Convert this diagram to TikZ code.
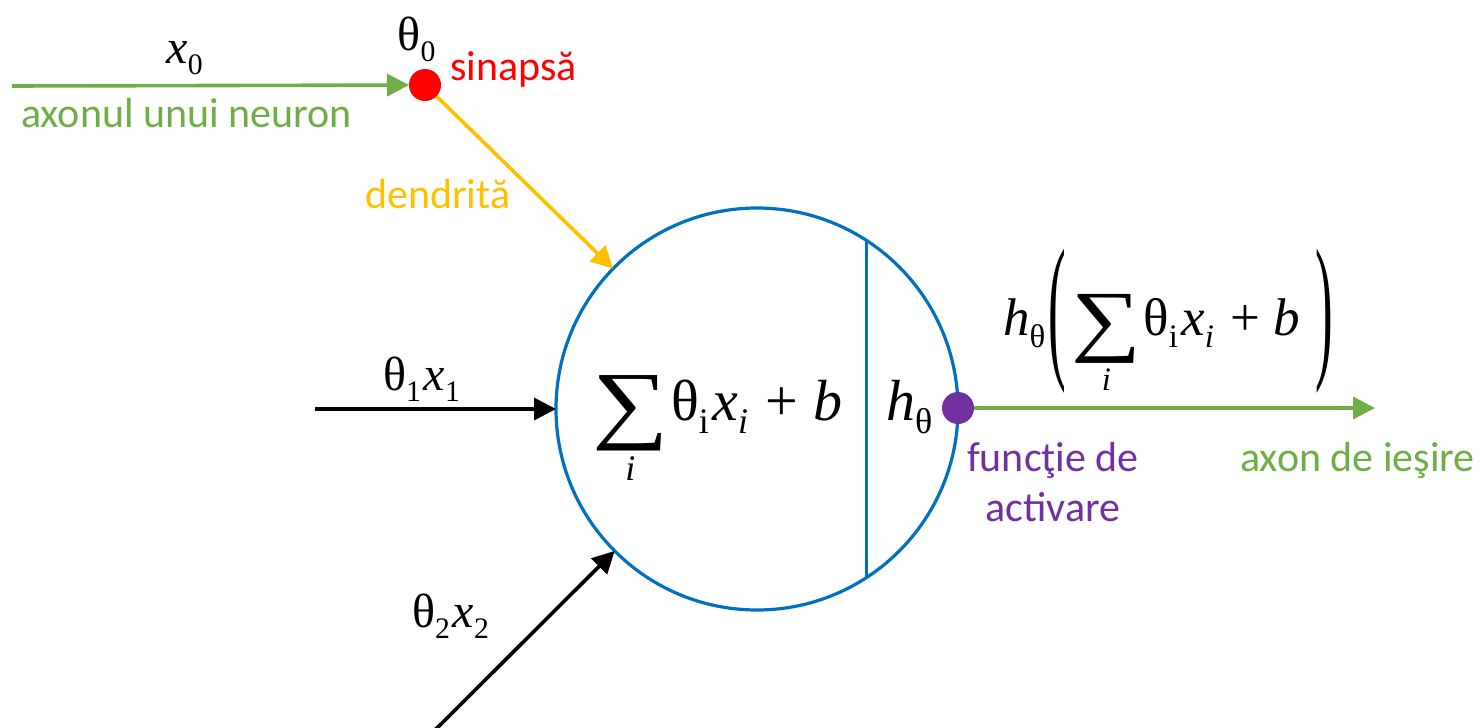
\documentclass[tikz,border=0pt]{standalone}
\usepackage{fontspec}
\usepackage{graphicx}
\setmainfont{Carlito}
\newfontfamily\mf{Liberation Serif}
\usetikzlibrary{arrows.meta}
\definecolor{cgreen}{HTML}{70AD47}
\definecolor{cred}{HTML}{FF0000}
\definecolor{cyellow}{HTML}{FFC000}
\definecolor{cblue}{HTML}{0070C0}
\definecolor{cpurple}{HTML}{7030A0}
\newcommand{\lw}[1]{\raisebox{-0.24em}{\scalebox{0.62}{#1}}\kern0.06em\relax}
\newsavebox{\sumbx}
\newcommand{\bsum}{\sbox{\sumbx}{\scalebox{1.85}[1.5]{∑}}\raisebox{-0.22em}{\usebox{\sumbx}}\llap{\makebox[\wd\sumbx][c]{\raisebox{-1.05em}{\scalebox{0.62}{\itshape i}}}}\kern0.04em\relax}
\newcommand{\bigparen}[1]{\raisebox{-0.46em}{\scalebox{1}[3.0]{#1}}}
\begin{document}
\begin{tikzpicture}[x=1pt,y=-1pt,
  lbl/.style={font=\fontsize{42}{50}\selectfont, inner sep=0},
  mth/.style={font=\mf\fontsize{48}{52}\selectfont, inner sep=0},
  bigm/.style={font=\mf\fontsize{58}{62}\selectfont, inner sep=0},
  midm/.style={font=\mf\fontsize{53}{58}\selectfont, inner sep=0},
  wire/.style={line width=3.6pt},
  tip/.style={-{Triangle[length=22pt,width=22pt]}},
  dot/.style={circle, minimum size=32pt, inner sep=0, outer sep=0}]
\useasboundingbox (0,0) rectangle (1484,728);
% neuron body
\node[circle, draw=cblue, line width=3.2pt, minimum size=402pt, inner sep=0, outer sep=0] (neuron) at (757,409) {};
\draw[cblue, line width=3.2pt] (neuron.57.5) -- (neuron.-57.5);
% synapse
\node[dot, fill=cred] (syn) at (425,85) {};
\coordinate (in0) at (12,86);
\draw[wire, cgreen, tip] (in0) -- (syn);
\draw[wire, cyellow, tip] (syn) -- (neuron);
% other inputs
\coordinate (in1) at (315,409);
\draw[wire, black, tip] (in1) -- (neuron);
\coordinate (in2) at (430,735);
\draw[wire, black, tip] (in2) -- (neuron);
% activation
\node[dot, fill=cpurple] (act) at (958,408) {};
\coordinate (out) at (1375,408);
\draw[wire, cgreen, tip] (act) -- (out);
% labels
\node[mth, anchor=base] (lx0) at (186,63) {\textit{x}\lw{0}};
\node[mth, anchor=base] (lt0) at (418,50) {θ\lw{0}};
\node[lbl, text=cred, anchor=base west] (lsyn) at (450,80) {sinapsă};
\node[lbl, text=cgreen, anchor=base west] (laxon) at (21,127) {axonul unui neuron};
\node[lbl, text=cyellow, anchor=base west] (lden) at (365,208) {dendrită};
\node[mth, anchor=base] (lt1) at (423,390) {θ\lw{1}\textit{x}\lw{1}};
\node[mth, anchor=base] (lt2) at (452,627) {θ\lw{2}\textit{x}\lw{2}};
\node[bigm, anchor=base west] (fsum) at (592,420) {\bsum θ\lw{i}\textit{x}\lw{\textit{i}} + \textit{b}};
\node[bigm, anchor=base west] (fh) at (886,420) {\textit{h}\lw{θ}};
\node[midm, anchor=base west] (fout) at (1003,335) {\textit{h}\lw{θ}\bigparen{(}\kern0.1em\relax\bsum θ\lw{i}\textit{x}\lw{\textit{i}} + \textit{b}\kern0.3em\relax\bigparen{)}};
\node[lbl, text=cpurple, align=center, anchor=north] (lact) at (1053,442) {funcţie de\\activare};
\node[lbl, text=cgreen, anchor=base west] (lout) at (1240,471) {axon de ieşire};
\end{tikzpicture}
\end{document}
